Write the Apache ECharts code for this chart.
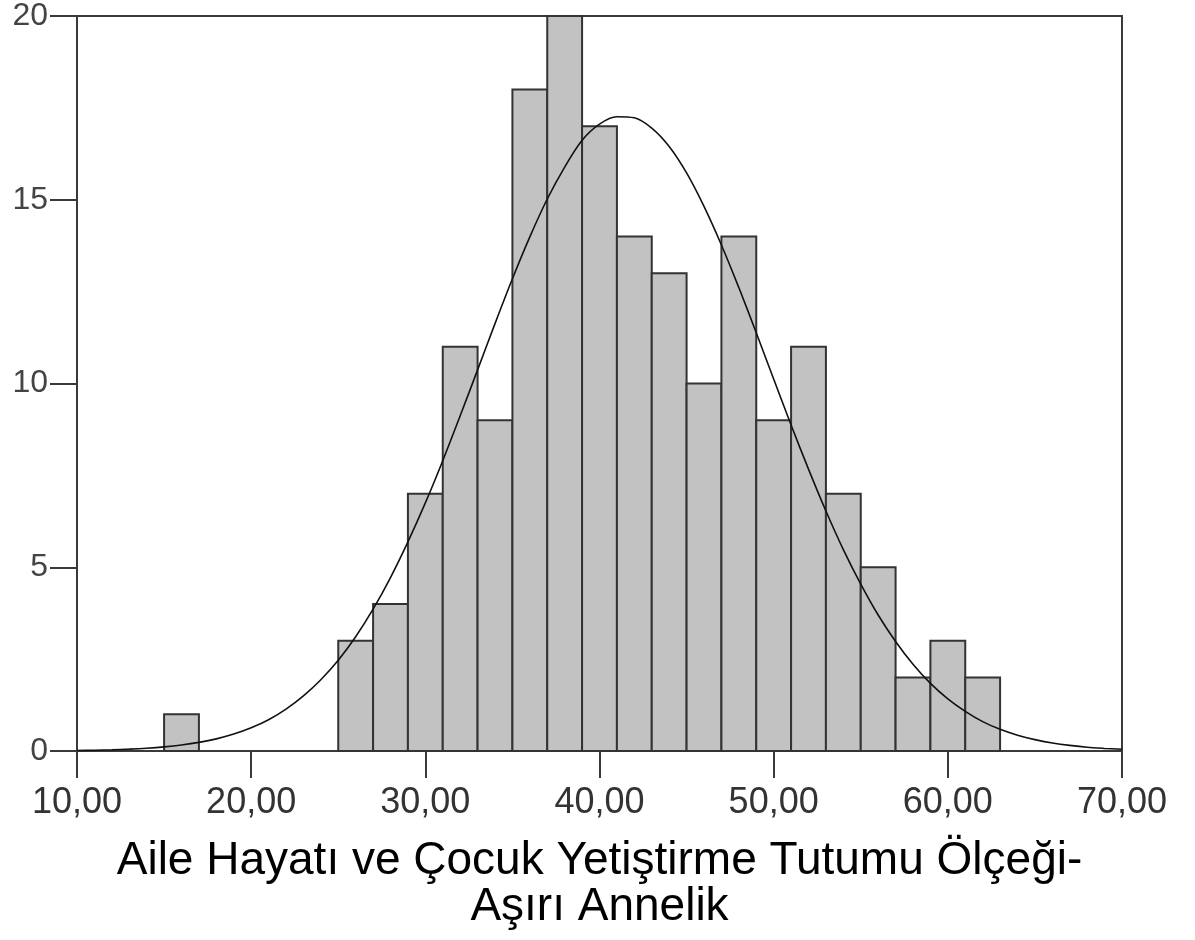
<!DOCTYPE html>
<html>
<head>
<meta charset="utf-8">
<script src="https://cdn.jsdelivr.net/npm/echarts@6/dist/echarts.min.js"></script>
<style>
  html, body { margin: 0; padding: 0; background: #fff; }
  #chart { width: 1195px; height: 940px; }
</style>
</head>
<body>
<div id="chart"></div>
<script>
// histogram bins (width 2) and counts
var binStart = [15, 25, 27, 29, 31, 33, 35, 37, 39, 41, 43, 45, 47, 49, 51, 53, 55, 57, 59, 61]
var binEnd = [17, 27, 29, 31, 33, 35, 37, 39, 41, 43, 45, 47, 49, 51, 53, 55, 57, 59, 61, 63]
var counts = [1, 3, 4, 7, 11, 9, 18, 20, 17, 14, 13, 10, 14, 9, 11, 7, 5, 2, 3, 2]

// normal curve, one point per unit
var curveX = [10, 11, 12, 13, 14, 15, 16, 17, 18, 19, 20, 21, 22, 23, 24, 25, 26, 27, 28, 29, 30,
  31, 32, 33, 34, 35, 36, 37, 38, 39, 40, 41, 42, 43, 44, 45, 46, 47, 48, 49, 50,
  51, 52, 53, 54, 55, 56, 57, 58, 59, 60, 61, 62, 63, 64, 65, 66, 67, 68, 69, 70]
var curveY = [0.014, 0.022, 0.034, 0.051, 0.076, 0.112, 0.163, 0.234, 0.33, 0.46, 0.63, 0.85, 1.14, 1.50, 1.94, 2.47, 3.11, 3.86, 4.72, 5.69, 6.75,
  7.90, 9.12, 10.37, 11.63, 12.85, 13.99, 15.02, 15.89, 16.62, 17.06, 17.26, 17.23, 16.95, 16.45, 15.73, 14.82, 13.77, 12.61, 11.38, 10.12,
  8.87, 7.67, 6.53, 5.48, 4.54, 3.70, 2.98, 2.36, 1.84, 1.42, 1.08, 0.80, 0.59, 0.43, 0.31, 0.22, 0.152, 0.10, 0.070, 0.047]

var xTicks = ['10,00', '20,00', '30,00', '40,00', '50,00', '60,00', '70,00']
var yTicks = ['0', '5', '10', '15', '20']

var xTitle = 'Aile Hayatı ve Çocuk Yetiştirme Tutumu Ölçeği-\nAşırı Annelik'

var bars = binStart.map(function (s, i) { return [s, binEnd[i], counts[i]] })
var curve = curveX.map(function (x, i) { return [x, curveY[i]] })

var myChart = echarts.init(document.getElementById('chart'))
var lineColor = '#3a3a3a'
var option = {
  animation: false,
  backgroundColor: '#fff',
  grid: {
    left: 77,
    right: 73,
    top: 16,
    bottom: 189,
    show: true,
    borderColor: lineColor,
    borderWidth: 2
  },
  xAxis: {
    type: 'value',
    min: 10,
    max: 70,
    interval: 10,
    name: xTitle,
    nameLocation: 'middle',
    nameGap: 87,
    nameTextStyle: {
      fontFamily: 'Liberation Sans',
      fontSize: 46,
      lineHeight: 46,
      color: '#000'
    },
    axisLine: { show: true, lineStyle: { color: lineColor, width: 2 } },
    axisTick: { show: true, inside: false, length: 27, lineStyle: { color: lineColor, width: 2 } },
    splitLine: { show: false },
    axisLabel: {
      margin: 34,
      fontFamily: 'Liberation Sans',
      fontSize: 36,
      color: '#333',
      formatter: function (v) { return xTicks[(v - 10) / 10] }
    }
  },
  yAxis: {
    type: 'value',
    min: 0,
    max: 20,
    interval: 5,
    axisLine: { show: true, lineStyle: { color: lineColor, width: 2 } },
    axisTick: { show: true, inside: false, length: 27, lineStyle: { color: lineColor, width: 2 } },
    splitLine: { show: false },
    axisLabel: {
      margin: 29,
      fontFamily: 'Liberation Sans',
      fontSize: 32,
      color: '#444',
      formatter: function (v) { return yTicks[v / 5] }
    }
  },
  series: [
    {
      type: 'custom',
      data: bars,
      encode: { x: [0, 1], y: 2 },
      renderItem: function (params, api) {
        var p0 = api.coord([api.value(0), api.value(2)])
        var p1 = api.coord([api.value(1), 0])
        return {
          type: 'rect',
          shape: { x: p0[0], y: p0[1], width: p1[0] - p0[0], height: p1[1] - p0[1] },
          style: { fill: '#c2c2c2', stroke: '#333', lineWidth: 2 }
        }
      },
      z: 2
    },
    {
      type: 'line',
      data: curve,
      smooth: 0.3,
      showSymbol: false,
      symbol: 'none',
      lineStyle: { color: '#111', width: 1.6 },
      z: 3
    }
  ]
}
myChart.setOption(option, true)
</script>
</body>
</html>
